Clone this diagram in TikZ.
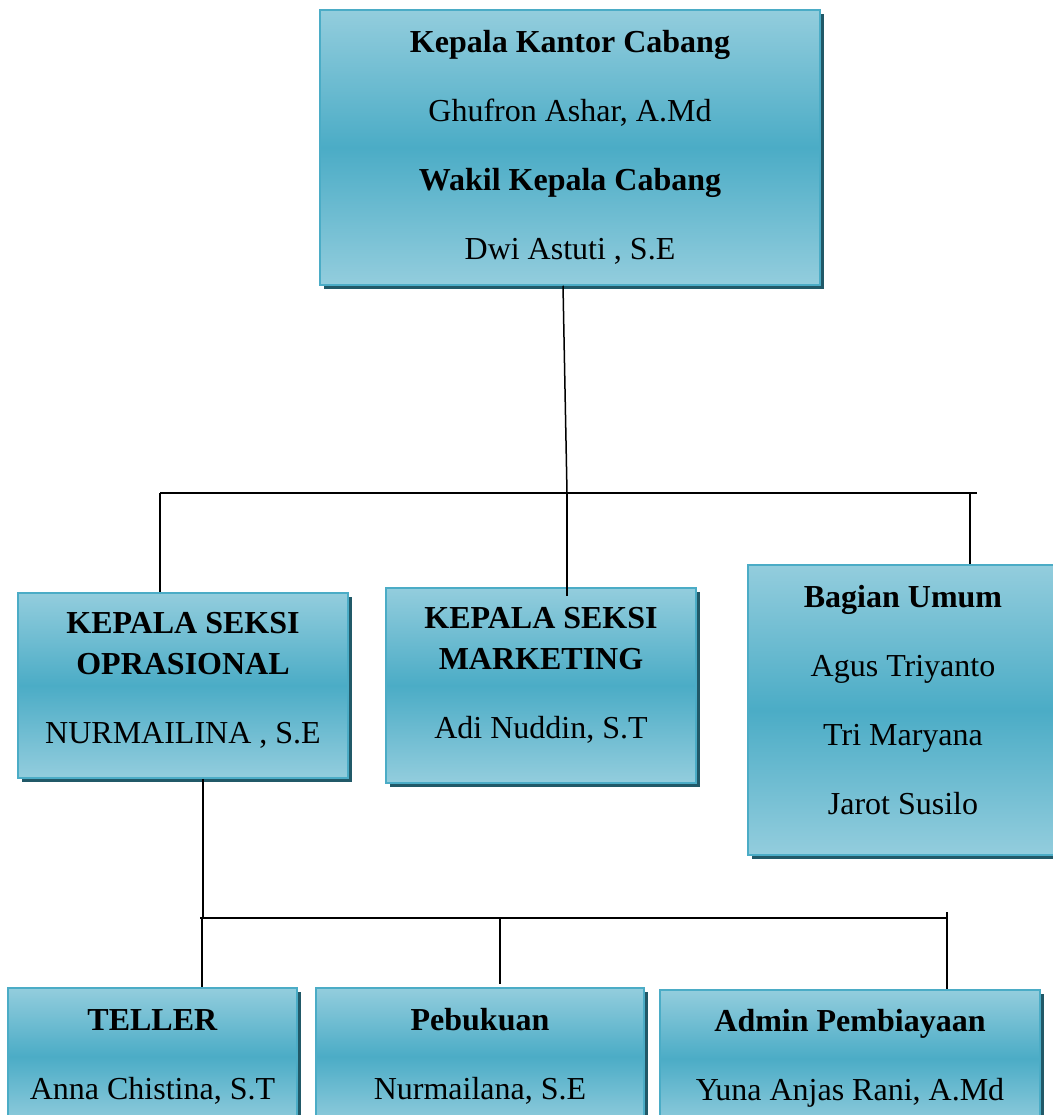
\documentclass[tikz,border=0pt]{standalone}
\usepackage{fontspec}
\setmainfont{Liberation Serif}
\usetikzlibrary{shadows}

\definecolor{birumuda}{HTML}{93CDDD}
\definecolor{birutua}{HTML}{4BACC6}
\definecolor{bayang}{HTML}{215968}

\tikzset{
  kotak/.style={draw=birutua, line width=1.5pt, top color=birumuda, bottom color=birumuda, middle color=birutua,
    drop shadow={shadow xshift=4pt, shadow yshift=-4pt, fill=bayang, opacity=1},
    align=center, inner sep=0pt, font=\fontsize{32}{41}\selectfont},
  garis/.style={line width=1.5pt}
}

\begin{document}
\begin{tikzpicture}[x=1pt,y=-1pt]
                \useasboundingbox (0,0) rectangle (1052,1115);
                \node[kotak, minimum width=500pt, minimum height=275pt] (kepala) at (570,147.5) {\textbf{Kepala Kantor Cabang}\\[28pt] Ghufron Ashar, A.Md\\[28pt] \textbf{Wakil Kepala Cabang}\\[28pt] Dwi Astuti , S.E};
                \node[kotak, minimum width=330pt, minimum height=185pt, text depth=15pt] (oprasional) at (183,685.5) {\textbf{KEPALA SEKSI}\\ \textbf{OPRASIONAL}\\[28pt] NURMAILINA , S.E};
                \node[kotak, minimum width=310pt, minimum height=195pt, text depth=25pt] (marketing) at (541,685.5) {\textbf{KEPALA SEKSI}\\ \textbf{MARKETING}\\[28pt] Adi Nuddin, S.T};
                \node[kotak, minimum width=310pt, minimum height=290pt, text depth=21pt] (umum) at (903,710) {\textbf{Bagian Umum}\\[28pt] Agus Triyanto\\[28pt] Tri Maryana\\[28pt] Jarot Susilo};
                \node[kotak, minimum width=289pt, minimum height=137pt] (teller) at (152.5,1056.5) {\textbf{TELLER}\\[28pt] Anna Chistina, S.T};
                \node[kotak, minimum width=328pt, minimum height=137pt] (pembukuan) at (480,1056.5) {\textbf{Pebukuan}\\[28pt] Nurmailana, S.E};
                \node[kotak, minimum width=380pt, minimum height=137pt] (admin) at (850,1058.5) {\textbf{Admin Pembiayaan}\\[28pt] Yuna Anjas Rani, A.Md};
                % garis ke bagian
                \coordinate (simpul1) at (567,493);
                \coordinate (kiri1) at (160,493);
                \coordinate (kanan1) at (977,493);
                \coordinate (umumatas) at (970,493);
                \draw[garis] ([xshift=-7pt]kepala.south) -- (simpul1);
                \draw[garis] (kiri1) -- (kanan1);
                \draw[garis] (kiri1) -- (kiri1 |- oprasional.north);
                \draw[garis] (simpul1) -- ([yshift=-9pt]simpul1 |- marketing.north);
                \draw[garis] (umumatas) -- (umumatas |- umum.north);
                % garis ke seksi oprasional
                \coordinate (simpul2) at (203,918);
                \coordinate (kiri2) at (200,918);
                \coordinate (tengah2) at (500,918);
                \coordinate (kanan2) at (947,912);
                \draw[garis] (oprasional.south -| simpul2) -- (simpul2);
                \draw[garis] (kiri2) -- (kanan2 |- kiri2);
                \draw[garis] ([xshift=2pt]kiri2) -- ([xshift=2pt]kiri2 |- teller.north);
                \draw[garis] (tengah2) -- ([yshift=3pt]tengah2 |- pembukuan.north);
                \draw[garis] (kanan2) -- (kanan2 |- admin.north);
            \end{tikzpicture}
\end{document}
